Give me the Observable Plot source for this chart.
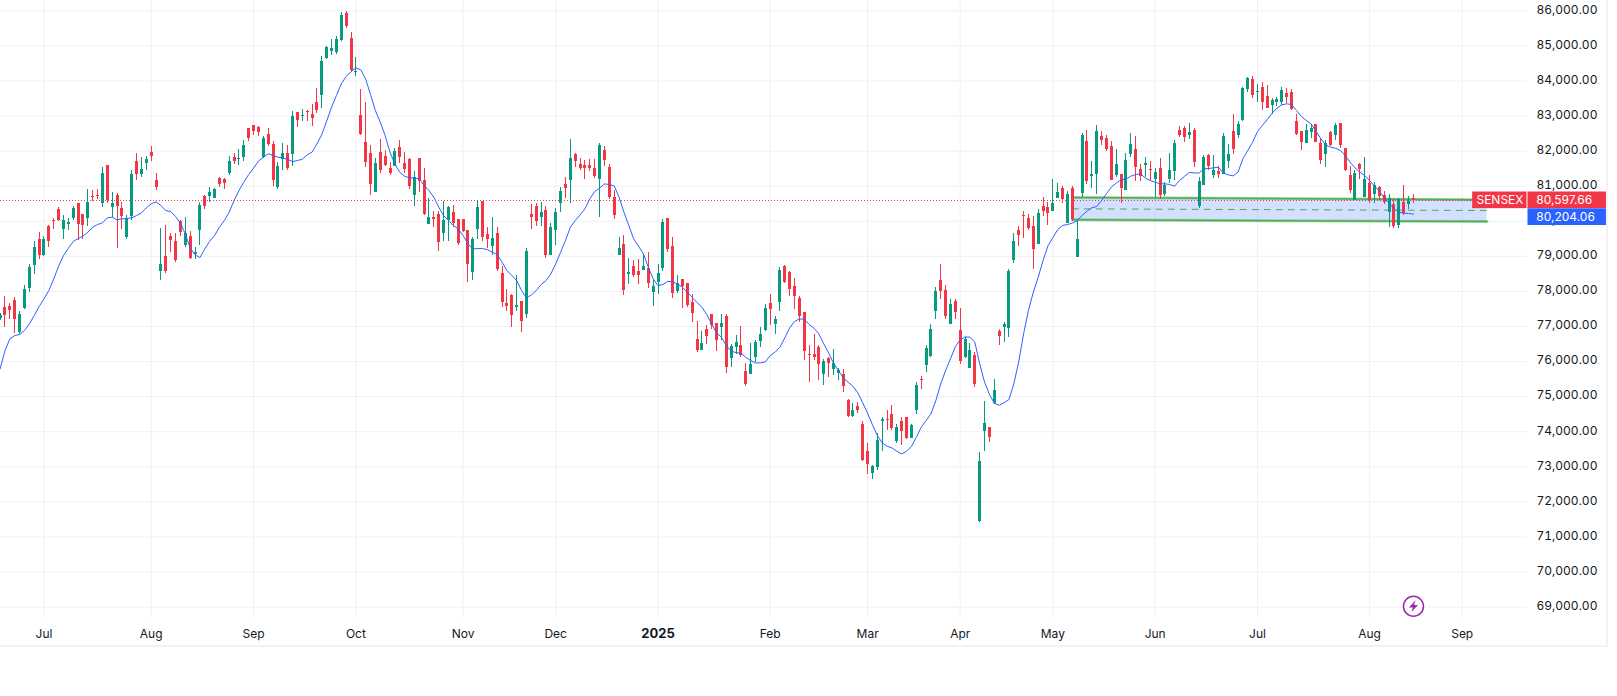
<!DOCTYPE html>
<html>
<head>
<meta charset="utf-8">
<script src="https://cdn.jsdelivr.net/npm/d3@7"></script>
<script src="https://cdn.jsdelivr.net/npm/@observablehq/plot@0.6"></script>
<style>
html,body{margin:0;padding:0;background:#fff;}
#frame{width:1606px;height:645px;border-right:2px solid #f2f2f3;border-bottom:2px solid #f2f2f3;}
svg{display:block;}
</style>
</head>
<body>
<div id="frame"></div>
<script>
const opens=[77218,77541,77569,77740,76828,77512,78082,78738,79479,79023,
79850,80021,80335,79764,79907,80078,80506,80192,80078,80705,
80734,80506,81589,80392,80734,80363,79536,80135,81704,81333,
81647,81960,81162,78567,78994,79565,79422,79993,79308,79565,
79051,79736,80705,80705,80648,81219,81190,81361,81818,81761,
81818,82645,82730,82673,81818,82474,82188,80962,81761,81932,
81903,83101,82987,83129,83044,83386,83586,84641,84841,84812,
85154,85924,85211,84242,83015,82245,81931,80819,81960,81846,
81503,81560,82102,81646,81760,80734,81789,81161,79906,80106,
80192,79650,80020,80249,80049,80049,79735,78537,79764,80562,
79621,79279,79650,78509,77653,77881,77539,77711,77340,80192,
80420,80106,80306,79022,79735,80505,81047,81161,81903,81617,
81589,81589,81503,81190,82017,81532,80676,79022,79336,78480,
78709,78566,78595,78652,77967,78252,78652,80077,79279,77996,
78338,78224,77682,76628,76314,76913,77341,77084,76970,77284,
76086,76400,76457,75715,75630,76114,76571,76884,77654,77055,
77683,78710,78538,78139,77797,77398,76200,76200,76400,75630,
76086,75772,75658,75630,74888,74432,74717,74204,73434,72806,
72977,74289,74346,74489,73719,74289,74403,73804,74603,75487,
75886,76143,77426,78310,78025,77055,77711,76884,76114,75801,
76171,71439,74006,74120,74804,76856,76970,76941,78881,79737,
80165,80079,79851,79338,80421,80393,80279,80650,80935,79937,
80935,78967,80792,82275,81277,81334,82418,82361,82132,81305,
81334,80878,81904,82047,81476,81591,81476,81191,81505,80764,
81191,81419,82589,82646,82446,82589,80421,81020,81876,81305,
81419,81334,81705,82560,82446,82874,83758,84043,83682,83815,
83558,83302,83387,83387,83644,83672,82845,82560,82218,82532,
82760,82218,81904,82532,82446,82788,82075,81306,80592,81619,
80678,81077,80764,80963,80735,80250,80478,79880,80535,80478,
80650];
const highs=[77360,77854,77655,77826,77427,78168,78757,79422,79679,79565,
79878,80078,80392,80164,80078,80420,80506,80192,80905,80877,
80905,81532,81589,80819,80791,80534,80164,81447,81932,81818,
81846,82131,81361,79793,79878,79650,79650,80021,80107,79707,
79251,80534,80734,80962,80934,81247,81219,81846,81932,82046,
82302,82645,82730,82702,82417,82645,82274,81675,82217,82160,
83129,83101,83186,83158,83329,83785,84698,84983,85183,85268,
85953,85981,85382,84669,83756,83386,82159,81789,82330,82017,
81675,82074,82302,81960,81789,81418,81789,81503,80648,80277,
80277,80562,80420,80448,80049,80049,79735,79536,80591,80562,
79821,80106,79821,78709,78053,77910,78452,77711,79222,80477,
80505,80534,80420,79935,80363,80962,81247,82330,81931,81789,
81731,81760,81760,82216,82131,81617,80876,79536,79593,78937,
78880,78908,79051,79108,78309,78766,80049,80077,79536,78452,
78338,78224,77910,77141,76856,77027,77341,77084,77341,77341,
76485,76742,77000,75943,76514,76599,76970,77626,77911,77284,
78681,78738,78567,78367,77854,77398,76457,76770,76457,76057,
76114,76342,75801,75772,74917,74803,74831,74289,73662,73034,
73947,74403,74603,74745,74204,74403,74403,74204,75401,75572,
76457,77055,78111,78767,78168,77768,77768,77512,76685,76514,
76257,73407,74861,74120,75488,76913,77113,78624,79651,79851,
80279,80193,80136,80336,80678,80535,81191,81077,80992,80849,
80992,80022,82503,82589,81705,82731,82560,82446,82275,82047,
81334,81933,82503,82418,81619,81819,81705,81505,81790,81106,
81933,82304,82703,82703,82788,82646,81248,81876,81904,81876,
81562,82503,82189,83045,82845,83815,84100,84129,83901,83958,
83872,83501,83530,83815,83787,83758,83045,82560,82760,82760,
82760,82361,82304,82560,82788,82788,82075,81562,81448,81648,
81819,81305,81106,80992,80849,80764,80621,80650,81020,80707,
80764];
const lows=[77170,76970,77199,76799,76771,77484,77968,78481,78909,78994,
79251,79764,79993,79479,79736,80021,79451,79479,79850,80563,
80620,80392,80506,80116,79223,79764,79479,80021,81162,81247,
81447,81704,80877,78310,78510,79108,78823,79565,79251,78909,
78909,79308,80335,80534,80648,80962,80905,81304,81618,81589,
81704,82274,82445,82417,81789,82131,80991,80905,81447,81447,
81561,82673,82844,82844,82702,83073,83215,84612,84727,84755,
85126,85497,84242,84128,82445,81532,80734,80819,81361,81560,
81304,81560,81646,81361,80905,80420,80819,80163,79906,79821,
79136,79422,79422,79821,79307,79678,78252,78309,79479,79422,
79222,79022,78566,77539,77425,76969,77425,76826,77226,79764,
79849,79849,78937,79022,79307,80249,80648,80505,81532,81446,
81190,81418,81218,80106,81560,80619,80049,79022,77882,78195,
78395,78195,78595,78081,77568,77910,78566,79108,77796,77939,
77511,77539,77112,76257,76314,76485,76913,76285,76599,75658,
75829,76200,76114,75287,75630,75972,76400,76856,77027,76770,
77426,78225,77854,77483,77113,76029,75401,76029,75459,75316,
75544,75601,75459,75116,74403,74403,74517,73149,72778,72635,
72892,73434,74033,74033,73662,73605,73776,73804,74489,75202,
75687,76114,77198,77768,77198,77055,77198,75915,76086,75801,
75259,71420,73435,73692,74776,76457,76542,76685,78796,79280,
79509,79737,78625,79338,80136,79879,80279,80650,80507,79937,
79994,78967,80678,81049,80935,80764,82161,81990,81163,81248,
80507,80878,81819,81134,81134,81248,81163,80678,80621,80707,
81077,81163,82389,82246,82332,81534,80364,81020,81448,81220,
81220,81334,81505,81904,82361,82845,83672,83501,83387,83159,
83216,83045,83273,83302,83359,83159,82446,82018,82218,82361,
82247,81619,81534,82132,82304,82075,81419,80792,80592,81191,
80678,80507,80507,80592,80478,79832,79794,79794,80165,80336,
80507];
const closes=[77313,77313,77455,77199,77341,78054,78681,79251,79023,79479,
79422,80002,80021,80021,79964,80363,79907,79878,80534,80687,
80715,81361,80591,80506,80420,80135,80078,81333,81333,81475,
81761,81846,80962,78766,78567,79451,78880,79679,79650,78937,
79108,80449,80420,80819,80905,81048,81076,81704,81704,81789,
82160,82360,82559,82531,82360,82188,81162,81561,81932,81504,
82987,82873,83016,83101,82930,83158,84555,84955,84926,85183,
85867,85554,84299,84270,82473,81675,81047,81646,81446,81589,
81361,81988,81817,81475,80990,81247,81133,80192,80106,80049,
79393,80020,80391,79935,79365,79707,78766,79479,80391,79536,
79479,79507,78623,77682,77568,77311,77596,77140,79136,80106,
79992,80249,79022,79821,80249,80847,80933,81789,81703,81503,
81503,81503,81275,82159,81731,80676,80163,79222,78024,78537,
78452,78452,78709,78224,78138,78509,79963,79193,77939,78224,
78138,77596,77368,76314,76514,76713,77027,76599,77084,75829,
76428,76542,76171,75344,75915,76542,76770,77512,77483,77198,
78595,78253,78054,77854,77284,76285,76181,76114,75915,76000,
75943,75943,75744,75287,74432,74603,74603,73177,73063,73006,
73747,74346,74327,74090,74118,74004,73804,74175,75316,75468,
76371,76913,77997,77997,77284,77626,77398,76000,76628,76314,
75344,73150,74234,73834,75175,76713,77055,78567,79423,79594,
80146,79794,79195,80222,80279,80222,80507,80821,80621,80764,
80051,79480,82446,81134,81334,82560,82304,82047,81163,81619,
80935,81733,82189,81534,81277,81648,81457,81391,80735,81020,
81448,82218,82446,82389,82532,81676,81134,81819,81562,81448,
81334,82418,81904,82047,82760,83787,84072,83587,83701,83387,
83216,83444,83473,83729,83530,83188,82475,82247,82589,82646,
82247,81733,82218,82161,82731,82161,81448,80878,81362,81476,
81191,80592,81020,80707,80535,80650,79851,80621,80222,80564,
80597.66];
const movingAverage=[75792,76315,76647,76742,76771,76885,77075,77313,77569,77788,
78025,78357,78719,79023,79232,79422,79507,79574,79688,79831,
79907,79954,80097,80116,80040,80069,80078,80097,80164,80240,
80382,80496,80553,80449,80306,80278,80135,79945,79641,79242,
79042,78966,79213,79432,79593,79831,80021,80259,80591,80876,
81114,81333,81513,81713,81827,81922,81875,81827,81808,81761,
81703,81732,81770,81894,81970,82207,82474,82854,83253,83586,
83919,84128,84270,84375,84318,84060,83614,83157,82825,82445,
81969,81636,81399,81285,81237,81237,81209,81019,80876,80686,
80401,80163,80020,79878,79783,79593,79355,79212,79222,79222,
79193,79117,79051,78832,78595,78452,78309,78024,77815,77901,
78024,78196,78309,78500,78785,79117,79450,79830,80020,80182,
80353,80638,80848,80943,81066,81047,81009,80686,80258,79878,
79498,79289,79070,78690,78357,78167,78195,78290,78271,78214,
78119,77977,77834,77680,77550,77341,77074,76818,76694,76457,
76295,76257,76238,76124,76029,75962,75962,75991,76171,76266,
76409,76675,76961,77141,77217,77208,77055,76951,76789,76504,
76247,75953,75744,75535,75411,75297,75107,74822,74527,74194,
73890,73681,73586,73538,73443,73367,73443,73586,73842,74128,
74318,74508,74888,75363,75744,76076,76428,76618,76704,76694,
76552,75934,75411,75059,74812,74755,74831,74917,75364,75990,
76790,77456,77978,78406,78881,79300,79528,79765,79880,79908,
79946,80022,80165,80288,80383,80421,80592,80783,80973,81087,
81182,81201,81286,81334,81353,81229,81163,81115,81068,81068,
81049,81001,81163,81277,81391,81381,81372,81496,81505,81524,
81543,81372,81324,81296,81400,81781,82018,82256,82560,82731,
82902,83083,83226,83321,83349,83330,83159,82988,82874,82779,
82570,82351,82180,82113,82085,82018,81876,81686,81524,81400,
81306,81163,81001,80859,80669,80516,80355,80260,80231,80222,
80204.06];

const priceTicks=d3.range(69000,86001,1000);
const monthBars=[9,31,52,73,95,114,158,178,197,216,237,258,281,300];
const monthLabels=["Jul","Aug","Sep","Oct","Nov","Dec","Feb","Mar","Apr","May","Jun","Jul","Aug","Sep"];
const yearBars=[135];
const yearLabels=["2025"];

const zoneBars=[220,305.1];
const zoneTop=[80678,80612];
const zoneMid=[80355,80307];
const zoneBottom=[80041,79994];

const lastPrice=80597.66;
const eventBar=[290];
const eventPrice=[69024];

const up="#089981",down="#f23645",blue="#2962ff",green="#4caf50",purple="#9c27b0",gridColor="#f0f0f3";

const bars=opens.map((o,i)=>({i,o,h:highs[i],l:lows[i],c:closes[i],ma:movingAverage[i],color:closes[i]>=o?up:down}));
const months=monthBars.map((x,k)=>({x,label:monthLabels[k]}));
const years=yearBars.map((x,k)=>({x,label:yearLabels[k]}));
const zone=zoneBars.map((x,k)=>({x,top:zoneTop[k],mid:zoneMid[k],bottom:zoneBottom[k]}));

const bolt={draw(ctx,size){
  const r=Math.sqrt(size/Math.PI);
  ctx.moveTo(0.35*r,-1*r);ctx.lineTo(-0.75*r,0.2*r);ctx.lineTo(-0.1*r,0.2*r);
  ctx.lineTo(-0.35*r,1*r);ctx.lineTo(0.75*r,-0.2*r);ctx.lineTo(0.1*r,-0.2*r);ctx.closePath();
}};

const tags=[
  {x1:302.15,x2:313.3,y1:lastPrice-237,y2:lastPrice+237,fill:down},
  {x1:313.5,x2:329.6,y1:lastPrice-237,y2:lastPrice+237,fill:down},
  {x1:313.5,x2:329.6,y1:79879,y2:80356,fill:blue}
];
const tagNames=[{x:307.75,y:lastPrice,text:"SENSEX"}];
const tagPrices=[
  {x:315.2,y:lastPrice,text:"80,597.66"},
  {x:315.2,y:80117,text:"80,204.06"}
];

const chart=Plot.plot({
  width:1606,height:645,
  marginLeft:0,marginRight:79,marginTop:0,marginBottom:28,
  style:{fontFamily:"Inter, sans-serif",fontSize:"12px",background:"#fff",overflow:"visible"},
  x:{type:"linear",domain:[0.078,313.4],axis:null},
  y:{type:"linear",domain:[68703,86295],axis:null},
  marks:[
    Plot.gridY(priceTicks,{stroke:gridColor,strokeOpacity:1}),
    Plot.gridX([...monthBars,...yearBars],{stroke:gridColor,strokeOpacity:1}),
    Plot.areaY(zone,{x:"x",y1:"top",y2:"bottom",fill:blue,fillOpacity:0.2}),
    Plot.line(zone,{x:"x",y:"top",stroke:green,strokeWidth:3,strokeOpacity:0.45}),
    Plot.line(zone,{x:"x",y:"top",stroke:green,strokeWidth:1.5}),
    Plot.line(zone,{x:"x",y:"bottom",stroke:green,strokeWidth:3,strokeOpacity:0.45}),
    Plot.line(zone,{x:"x",y:"bottom",stroke:green,strokeWidth:1.5}),
    Plot.line(zone,{x:"x",y:"mid",stroke:green,strokeWidth:1,strokeDasharray:"6 6"}),
    Plot.ruleY([lastPrice],{stroke:down,strokeWidth:1,strokeDasharray:"1 2",shapeRendering:"crispEdges"}),
    Plot.ruleX(bars,{x:"i",y1:"l",y2:"h",stroke:"color",strokeWidth:1,shapeRendering:"crispEdges"}),
    Plot.ruleX(bars,{x:"i",y1:"o",y2:"c",stroke:"color",strokeWidth:3,shapeRendering:"crispEdges"}),
    Plot.line(bars,{x:"i",y:"ma",stroke:blue,strokeWidth:1}),
    Plot.dot(eventBar,{x:d=>d,y:(d,k)=>eventPrice[k],r:10,stroke:purple,strokeWidth:1.5,fill:"#fff"}),
    Plot.dot(eventBar,{x:d=>d,y:(d,k)=>eventPrice[k],r:6,symbol:bolt,fill:purple,stroke:"none"}),
    Plot.axisY(priceTicks,{anchor:"right",tickSize:0,tickPadding:9,tickFormat:",.2f",label:null,fontSize:12,fill:"#131722",dy:-1}),
    Plot.text(months,{x:"x",text:"label",frameAnchor:"bottom",dy:20,fontSize:12,fill:"#131722"}),
    Plot.text(years,{x:"x",text:"label",frameAnchor:"bottom",dy:20,fontSize:13,fontWeight:700,fill:"#131722"}),
    Plot.rect(tags,{x1:"x1",x2:"x2",y1:"y1",y2:"y2",fill:"fill"}),
    Plot.text(tagNames,{x:"x",y:"y",text:"text",textAnchor:"middle",fill:"#fff",fontSize:12}),
    Plot.text(tagPrices,{x:"x",y:"y",text:"text",textAnchor:"start",fill:"#fff",fontSize:12})
  ]
});
document.getElementById("frame").appendChild(chart);
</script>
</body>
</html>
